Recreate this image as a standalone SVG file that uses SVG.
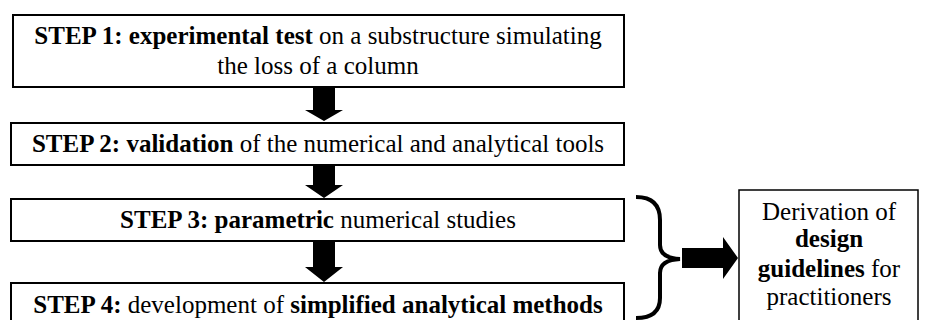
<svg xmlns="http://www.w3.org/2000/svg" width="931" height="320" viewBox="0 0 931 320">
<style>
  .box { fill: #fff; stroke: #000; stroke-width: 2; }
  .t { font-family: "Liberation Serif", "Times New Roman", serif; font-size: 25px; fill: #000; text-anchor: middle; }
  .b { font-weight: bold; }
  .arrow { fill: #000; }
  .brace { fill: none; stroke: #000; stroke-width: 4; }
</style>
<rect width="931" height="320" fill="#fff"/>
<g id="connectors">
  <polygon class="arrow" points="313,87 335,87 335,110 343,110 324,121 305,110 313,110"/>
  <polygon class="arrow" points="313,165 335,165 335,185 343,185 324,198 305,185 313,185"/>
  <polygon class="arrow" points="313,241 335,241 335,267 343,267 324,282 305,267 313,267"/>
  <path class="brace" d="M636,197 Q660,197 660,220 L660,245 Q660,258 680,259 Q660,260 660,273 L660,298 Q660,318 636,318"/>
  <polygon class="arrow" points="682,248 723,248 723,237 738,258 723,279 723,268 682,268"/>
</g>
<g id="step1">
  <rect class="box" x="13" y="15" width="611" height="72"/>
  <text class="t" x="318" y="44"><tspan class="b">STEP 1: experimental test</tspan> on a substructure simulating</text>
  <text class="t" x="318" y="74">the loss of a column</text>
</g>
<g id="step2">
  <rect class="box" x="11" y="123" width="613" height="42"/>
  <text class="t" x="318" y="152"><tspan class="b">STEP 2: validation</tspan> of the numerical and analytical tools</text>
</g>
<g id="step3">
  <rect class="box" x="11" y="199" width="613" height="42"/>
  <text class="t" x="318" y="228"><tspan class="b">STEP 3: parametric</tspan> numerical studies</text>
</g>
<g id="step4">
  <rect class="box" x="11" y="283" width="613" height="40"/>
  <text class="t" x="318" y="313"><tspan class="b">STEP 4:</tspan> development of <tspan class="b">simplified analytical methods</tspan></text>
</g>
<g id="derivation">
  <rect x="739" y="190" width="179" height="133" fill="#fff" stroke="#000" stroke-width="1.5"/>
  <text class="t" x="829" y="220">Derivation of</text>
  <text class="t b" x="829" y="247">design</text>
  <text class="t" x="829" y="277"><tspan class="b">guidelines</tspan> for</text>
  <text class="t" x="829" y="305">practitioners</text>
</g>
</svg>
